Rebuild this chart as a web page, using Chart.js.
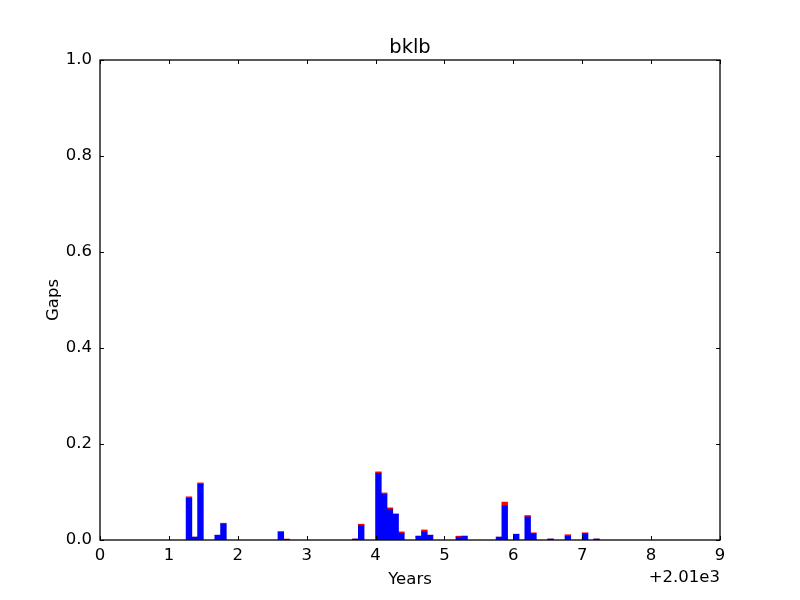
<!DOCTYPE html>
<html>
<head>
<meta charset="utf-8">
<script src="https://cdn.jsdelivr.net/npm/chart.js@4/dist/chart.umd.min.js"></script>
<style>
  html, body { margin: 0; padding: 0; background: #fff; }
  #wrap { width: 800px; height: 600px; }
</style>
</head>
<body>
<div id="wrap"><canvas id="gapChart" width="800" height="600"></canvas></div>
<script>
// months counted from Jan 2010 (offset 2010 shown as +2.01e3)
const monthIndex = [15, 16, 17, 20, 21, 31, 32, 44, 45, 48, 49, 50, 51, 52, 55, 56, 57, 62, 63, 69, 70, 72, 74, 75, 78, 81, 84, 86];
const blueGaps   = [0.087, 0.006, 0.116, 0.010, 0.033, 0.017, 0.000, 0.002, 0.030, 0.139, 0.095, 0.064, 0.054, 0.014, 0.008, 0.017, 0.010, 0.006, 0.008, 0.006, 0.071, 0.012, 0.048, 0.013, 0.002, 0.008, 0.013, 0.002];
const redGaps    = [0.003, 0.000, 0.003, 0.000, 0.002, 0.000, 0.002, 0.000, 0.003, 0.003, 0.003, 0.003, 0.000, 0.003, 0.000, 0.004, 0.000, 0.002, 0.000, 0.000, 0.008, 0.000, 0.003, 0.002, 0.000, 0.003, 0.002, 0.000];
const xTicks = [0, 1, 2, 3, 4, 5, 6, 7, 8, 9];
const yTicks = [0, 0.2, 0.4, 0.6, 0.8, 1.0];

const FONT = '"DejaVu Sans", sans-serif';

function toPoints(vals) {
    return monthIndex.map((m, i) => ({ x: (m + 0.5) / 12, y: vals[i] }));
}

// frame, inward ticks and text like the matplotlib original
const mplFrame = {
    id: 'mplFrame',
    afterDraw(chart) {
        const ctx = chart.ctx;
        const a = chart.chartArea;
        const xs = chart.scales.x, ys = chart.scales.y;
        ctx.save();
        ctx.strokeStyle = '#000';
        ctx.lineWidth = 1;
        ctx.beginPath();
        xTicks.forEach(t => {
            const px = Math.round(xs.getPixelForValue(t)) + 0.5;
            ctx.moveTo(px, a.bottom); ctx.lineTo(px, a.bottom - 4);
            ctx.moveTo(px, a.top); ctx.lineTo(px, a.top + 4);
        });
        yTicks.forEach(t => {
            const py = Math.round(ys.getPixelForValue(t)) + 0.5;
            ctx.moveTo(a.left, py); ctx.lineTo(a.left + 4, py);
            ctx.moveTo(a.right, py); ctx.lineTo(a.right - 4, py);
        });
        ctx.stroke();
        ctx.lineWidth = 1.3;
        ctx.strokeRect(a.left, a.top, a.right - a.left, a.bottom - a.top);

        ctx.fillStyle = '#000';
        ctx.textBaseline = 'alphabetic';
        ctx.textAlign = 'center';
        ctx.font = '19.5px ' + FONT;
        ctx.fillText('bklb', (a.left + a.right) / 2, 53);
        ctx.font = '16.5px ' + FONT;
        ctx.fillText('Years', (a.left + a.right) / 2, 584);
        ctx.textAlign = 'right';
        ctx.fillText('+2.01e3', a.right, 582);
        ctx.translate(58, (a.top + a.bottom) / 2);
        ctx.rotate(-Math.PI / 2);
        ctx.textAlign = 'center';
        ctx.fillText('Gaps', 0, 0);
        ctx.restore();
    }
};

new Chart('gapChart', {
    type: 'bar',
    data: {
        datasets: [{
            label: 'blue',
            data: toPoints(blueGaps),
            backgroundColor: '#0000ff',
            borderWidth: 0
        }, {
            label: 'red',
            data: toPoints(redGaps),
            backgroundColor: '#ff0000',
            borderWidth: 0
        }]
    },
    options: {
        responsive: false,
        animation: false,
        events: [],
        barPercentage: 1,
        categoryPercentage: 1,
        layout: { padding: { top: 60, right: 80, left: 0, bottom: 0 } },
        plugins: {
            legend: { display: false },
            title: { display: false },
            tooltip: { enabled: false }
        },
        scales: {
            x: {
                type: 'linear',
                stacked: true,
                min: 0,
                max: 9,
                offset: false,
                grid: { display: false, drawTicks: false },
                border: { display: false },
                afterFit: s => { s.height = 60; },
                afterBuildTicks: s => { s.ticks = xTicks.map(v => ({ value: v })); },
                ticks: {
                    color: '#000',
                    font: { family: FONT, size: 16.5 },
                    padding: 6,
                    maxRotation: 0,
                    callback: v => String(v)
                }
            },
            y: {
                stacked: true,
                min: 0,
                max: 1,
                grid: { display: false, drawTicks: false },
                border: { display: false },
                afterFit: s => { s.width = 100; },
                afterBuildTicks: s => { s.ticks = yTicks.map(v => ({ value: v })); },
                ticks: {
                    color: '#000',
                    font: { family: FONT, size: 16.5 },
                    padding: 8,
                    callback: v => Number(v).toFixed(1)
                }
            }
        }
    },
    plugins: [mplFrame]
});
</script>
</body>
</html>
